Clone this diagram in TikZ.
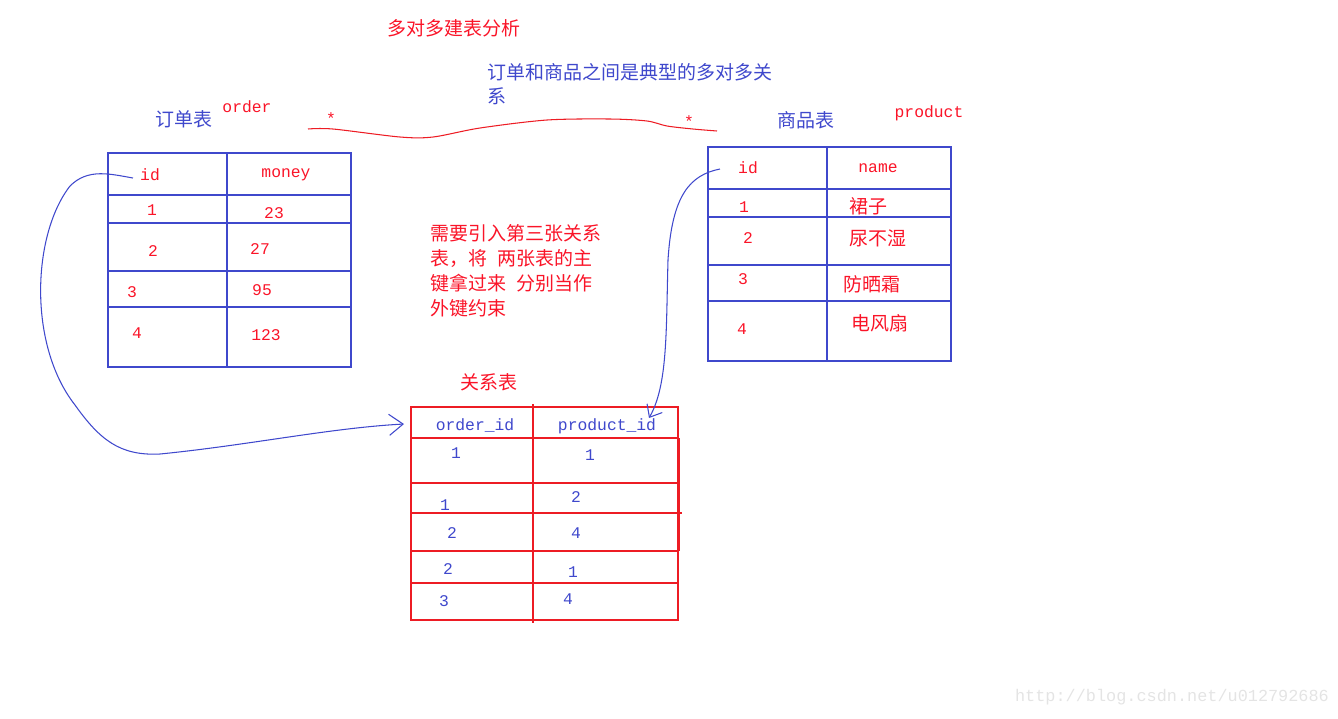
\documentclass[tikz,border=0pt]{standalone}
\usepackage{fontspec}
\setmonofont{Liberation Mono}
\newfontfamily\cjk{Noto Sans CJK SC}
\usetikzlibrary{arrows.meta}
\definecolor{penblue}{RGB}{63,72,204}
\definecolor{penred}{RGB}{237,28,36}
\definecolor{inkred}{RGB}{250,20,40}
\definecolor{markgray}{RGB}{228,228,228}
\tikzset{
    zh/.style={font=\cjk\fontsize{10.8}{14}\selectfont},
    en/.style={font=\ttfamily\fontsize{9.3}{11}\selectfont},
    rule/.style={line width=0.6pt},
    link/.style={penblue, line width=0.6pt},
}

\begin{document}
\begin{tikzpicture}[x=0.02cm, y=-0.02cm]
        \useasboundingbox (0,0) rectangle (1338,718);
        % titles
        \node[zh, inkred] (title) at (454,28) {多对多建表分析};
        \node[zh, penblue, align=left, anchor=west, inner xsep=0pt, font=\cjk\fontsize{10.8}{13.7}\selectfont] (note) at (487,84) {订单和商品之间是典型的多对多关\\系};
        \node[zh, inkred, align=left, anchor=west, inner xsep=0pt, font=\cjk\fontsize{10.8}{14.2}\selectfont] (hint) at (430,271) {需要引入第三张关系\\表，将\hspace{0.55em}两张表的主\\键拿过来\hspace{0.55em}分别当作\\外键约束};
        % many-to-many line
        \node[en, inkred] (stl) at (331,119) {*};
        \node[en, inkred] (str) at (689,122) {*};
        \draw[penred, rule] plot[smooth, tension=0.5] coordinates {(308,129) (333,129) (400,137) (433,137) (480,128) (547,120) (610,119) (647,121) (667,126) (693,129) (717,131)};
        \begin{scope}
            % order table
            \node[zh, penblue] (otitle) at (184,119) {订单表};
            \node[en, inkred] (oname) at (247,107) {order};
            \draw[penblue, rule] (108,153) rectangle (351,367);
            \draw[penblue, rule] (227,153) -- (227,366);
            \foreach \y in {195,223,271,307} \draw[penblue, rule] (108,\y) -- (351,\y);
            \draw[penblue, line width=1.3pt] (108,195) -- (108,307);
            \node[en, inkred] (oid) at (150,175) {id};
            \node[en, inkred] (omoney) at (286,175) {money};
            \node[en, inkred] (o1) at (152,210) {1};
            \node[en, inkred] (m1) at (274,213) {23};
            \node[en, inkred] (o2) at (153,251) {2};
            \node[en, inkred] (m2) at (260,249) {27};
            \node[en, inkred] (o3) at (132,292) {3};
            \node[en, inkred] (m3) at (262,290) {95};
            \node[en, inkred] (o4) at (137,333) {4};
            \node[en, inkred] (m4) at (266,335) {123};
        \end{scope}
        \begin{scope}
            % product table
            \node[zh, penblue] (ptitle) at (806,120) {商品表};
            \node[en, inkred] (pname) at (929,113) {product};
            \draw[penblue, rule] (708,147) rectangle (951,361);
            \draw[penblue, rule] (827,147) -- (827,360);
            \foreach \y in {189,217,265,301} \draw[penblue, rule] (708,\y) -- (951,\y);
            \draw[penblue, line width=1.3pt] (708,189) -- (708,301);
            \node[en, inkred] (pid) at (748,168) {id};
            \node[en, inkred] (pnm) at (878,168) {name};
            \node[en, inkred] (p1) at (744,207) {1};
            \node[zh, inkred] (n1) at (868,206) {裙子};
            \node[en, inkred] (p2) at (748,238) {2};
            \node[zh, inkred] (n2) at (878,238) {尿不湿};
            \node[en, inkred] (p3) at (743,279) {3};
            \node[zh, inkred] (n3) at (872,284) {防晒霜};
            \node[en, inkred] (p4) at (742,329) {4};
            \node[zh, inkred] (n4) at (880,323) {电风扇};
        \end{scope}
        \begin{scope}
            % relation table
            \node[zh, inkred] (rtitle) at (489,382) {关系表};
            \draw[penred, rule] (411,407) rectangle (678,620);
            \draw[penred, rule] (533,404) -- (533,623);
            \foreach \y in {438,483,551,583} \draw[penred, rule] (411,\y) -- (678,\y);
            \draw[penred, rule] (411,513) -- (682,513);
            \draw[penred, line width=1.3pt] (411,438) -- (411,551);
            \draw[penred, line width=1.3pt] (679,438) -- (679,551);
            \node[en, penblue] (roid) at (475,425) {order\_id};
            \node[en, penblue] (rpid) at (607,426) {product\_id};
            \node[en, penblue] (ra1) at (456,453) {1};
            \node[en, penblue] (rb1) at (590,455) {1};
            \node[en, penblue] (ra2) at (445,505) {1};
            \node[en, penblue] (rb2) at (576,497) {2};
            \node[en, penblue] (ra3) at (452,533) {2};
            \node[en, penblue] (rb3) at (576,533) {4};
            \node[en, penblue] (ra4) at (448,569) {2};
            \node[en, penblue] (rb4) at (573,572) {1};
            \node[en, penblue] (ra5) at (444,601) {3};
            \node[en, penblue] (rb5) at (568,599) {4};
        \end{scope}
        % foreign keys
        \coordinate (oin) at (404,424);
        \coordinate (pin) at (649,418);
        \draw[link, -{Straight Barb[length=8pt,width=12pt]}] (oid.west) ++(-1,3)
            .. controls (110,174) and (88,168) .. (70,186)
            .. controls (32,235) and (28,345) .. (75,405)
            .. controls (100,440) and (120,456) .. (160,454)
            .. controls (250,445) and (330,428) .. (oin);
        \draw[link, -{Straight Barb[length=6pt,width=10pt]}] (pid.west) ++(-12,1)
            .. controls (690,175) and (672,195) .. (668,260)
            .. controls (666,330) and (668,385) .. (pin);
        \node[font=\ttfamily\fontsize{9.6}{11}\selectfont, markgray] (mark) at (1172,697) {http://blog.csdn.net/u012792686};
    \end{tikzpicture}
\end{document}
